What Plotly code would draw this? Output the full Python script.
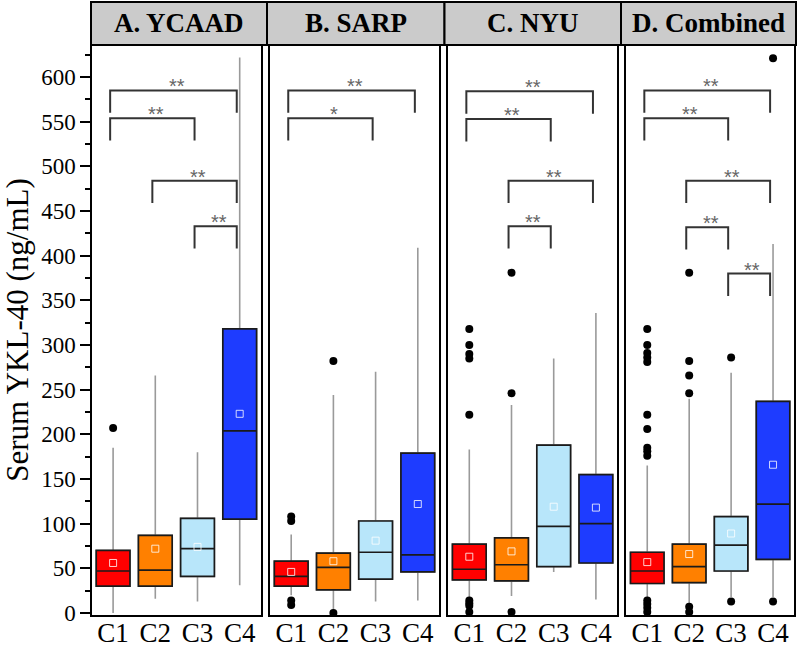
import plotly.graph_objects as go

categories = ["C1", "C2", "C3", "C4"]
panel_titles = ["A. YCAAD", "B. SARP", "C. NYU", "D. Combined"]
box_colors = ["#FF0000", "#FF8000", "#B8E6FA", "#1E3CFF"]

# statistics per panel (rows) and category (columns)
lower_fence = [[0, 16, 13, 31], [20, 3, 13, 14], [17, 19, 46, 15], [16, 11, 18, 18]]
q1_vals = [[30, 30, 41, 105], [30, 26, 38, 46], [37, 36, 52, 56], [33, 34, 47, 60]]
median_vals = [[47, 48, 72, 204], [41, 51, 68, 65], [49, 54, 97, 100], [47, 52, 76, 122]]
q3_vals = [[70, 87, 106, 318], [58, 67, 103, 179], [77, 84, 188, 155], [68, 77, 108, 237]]
upper_fence = [[185, 266, 180, 622], [88, 244, 270, 409], [183, 233, 285, 336], [165, 240, 269, 413]]
mean_vals = [[56, 72, 74, 223], [46, 58, 81, 122], [63, 69, 119, 118], [57, 66, 89, 166]]
outliers = [
    [[207], [], [], []],
    [[108, 103, 14, 9], [282, 0], [], []],
    [[318, 300, 290, 285, 222, 14, 11, 8, 1], [381, 246, 1], [], []],
    [[318, 300, 291, 286, 281, 222, 206, 185, 181, 176, 14, 10, 6, 1],
     [381, 282, 266, 246, 7, 1], [286, 13], [621, 13]],
]
# significance brackets: (from category, to category, bracket level, label)
brackets = [
    [(0, 3, 585, "**"), (0, 2, 554, "**"), (1, 3, 484, "**"), (2, 3, 433, "**")],
    [(0, 3, 585, "**"), (0, 2, 554, "*")],
    [(0, 3, 584, "**"), (0, 2, 553, "**"), (1, 3, 484, "**"), (1, 2, 433, "**")],
    [(0, 3, 585, "**"), (0, 2, 554, "**"), (1, 3, 484, "**"), (1, 2, 432, "**"), (2, 3, 380, "**")],
]
y_ticks = list(range(0, 601, 50))

FONT = "Liberation Serif"
W, H = 800, 647
ML, MR, MT, MB = 92, 6, 45, 32
PW = W - ML - MR
pw_frac = 168.8 / PW
gap_frac = 9.3 / PW
domains = []
for k in range(4):
    a = k * (pw_frac + gap_frac)
    domains.append([a, min(a + pw_frac, 1.0)])

fig = go.Figure()
leg_len = 25
shift = -0.07

for p in range(4):
    xa = "x" if p == 0 else f"x{p+1}"
    ya = "y" if p == 0 else f"y{p+1}"
    for c in range(4):
        # whiskers (grey)
        fig.add_trace(go.Box(
            x=[c], q1=[q1_vals[p][c]], median=[median_vals[p][c]], q3=[q3_vals[p][c]],
            lowerfence=[lower_fence[p][c]], upperfence=[upper_fence[p][c]],
            fillcolor=box_colors[c], line=dict(color="#9A9A9A", width=1.6),
            width=0.8, whiskerwidth=0, boxpoints=False, xaxis=xa, yaxis=ya,
            showlegend=False, hoverinfo="skip"))
        # box body
        fig.add_trace(go.Box(
            x=[c], q1=[q1_vals[p][c]], median=[median_vals[p][c]], q3=[q3_vals[p][c]],
            lowerfence=[q1_vals[p][c]], upperfence=[q3_vals[p][c]],
            fillcolor=box_colors[c], line=dict(color="#1A1A1A", width=1.7),
            width=0.8, whiskerwidth=0, boxpoints=False, xaxis=xa, yaxis=ya,
            showlegend=False, hoverinfo="skip"))
        if outliers[p][c]:
            fig.add_trace(go.Scatter(
                x=[c] * len(outliers[p][c]), y=outliers[p][c], mode="markers",
                marker=dict(color="black", size=8, symbol="circle"),
                xaxis=xa, yaxis=ya, showlegend=False, cliponaxis=False))
    fig.add_trace(go.Scatter(
        x=list(range(4)), y=mean_vals[p], mode="markers",
        marker=dict(symbol="square-open", size=7, color="rgba(255,255,255,0.8)",
                    line=dict(width=1)),
        xaxis=xa, yaxis=ya, showlegend=False))
    for (i, j, lvl, lab) in brackets[p]:
        fig.add_trace(go.Scatter(
            x=[i + shift, i + shift, j + shift, j + shift],
            y=[lvl - leg_len, lvl, lvl, lvl - leg_len], mode="lines",
            line=dict(color="#333333", width=2), xaxis=xa, yaxis=ya,
            showlegend=False, hoverinfo="skip"))
        fig.add_annotation(x=(i + j) / 2 + shift + 0.08, y=lvl, xref=xa, yref=ya,
                           text=lab, showarrow=False, yanchor="middle", yshift=4,
                           font=dict(family="Liberation Sans", size=20, color="#666666"))

layout = dict(
    width=W, height=H, margin=dict(l=ML, r=MR, t=MT, b=MB),
    paper_bgcolor="white", plot_bgcolor="white", showlegend=False,
    font=dict(family=FONT, color="black"),
)
for p in range(4):
    xk = "xaxis" if p == 0 else f"xaxis{p+1}"
    yk = "yaxis" if p == 0 else f"yaxis{p+1}"
    layout[xk] = dict(domain=domains[p], range=[-0.5, 3.5], tickmode="array",
                      tickvals=list(range(4)), ticktext=categories, ticks="",
                      showline=True, mirror=True, linecolor="black", linewidth=1.5,
                      showgrid=False, zeroline=False, ticklabelstandoff=-7,
                      automargin=False,
                      tickfont=dict(family=FONT, size=27, color="black"),
                      anchor="y" if p == 0 else f"y{p+1}")
    if p == 0:
        layout[yk] = dict(range=[-2.24, 635.9], tickmode="array", tickvals=y_ticks,
                          ticks="outside", ticklen=10, tickwidth=2, tickcolor="black",
                          minor=dict(dtick=25, tick0=0, ticks="outside", ticklen=5,
                                     tickwidth=2, tickcolor="black"),
                          showline=True, mirror=True, linecolor="black", linewidth=1.5,
                          showgrid=False, zeroline=False, anchor="x", automargin=False,
                          tickfont=dict(family=FONT, size=23, color="black"),
                          title=dict(text="Serum YKL-40 (ng/mL)",
                                     font=dict(family=FONT, size=31, color="black"),
                                     standoff=6))
    else:
        layout[yk] = dict(matches="y", showticklabels=False, ticks="", showline=True,
                          mirror=True, linecolor="black", linewidth=1.5, automargin=False,
                          showgrid=False, zeroline=False, anchor=f"x{p+1}")
fig.update_layout(**layout)

# header strips
edges_px = [91, 267, 444.5, 621, 796]
y0 = 1.0
y1 = (H - MB - 2) / (H - MT - MB)
for p in range(4):
    x0 = (edges_px[p] - ML) / PW
    x1 = (edges_px[p + 1] - ML) / PW
    fig.add_shape(type="rect", xref="paper", yref="paper", x0=x0, x1=x1, y0=y0, y1=y1,
                  fillcolor="#CBCBCB", line=dict(color="black", width=2), layer="above")
    fig.add_annotation(xref="paper", yref="paper", x=(x0 + x1) / 2, y=(y0 + y1) / 2,
                       text=f"<b>{panel_titles[p]}</b>", showarrow=False,
                       xanchor="center", yanchor="middle",
                       font=dict(family=FONT, size=27, color="black"))

fig.write_html("out.html", config={"displayModeBar": False},
               post_script="document.body.style.margin='0px';")
